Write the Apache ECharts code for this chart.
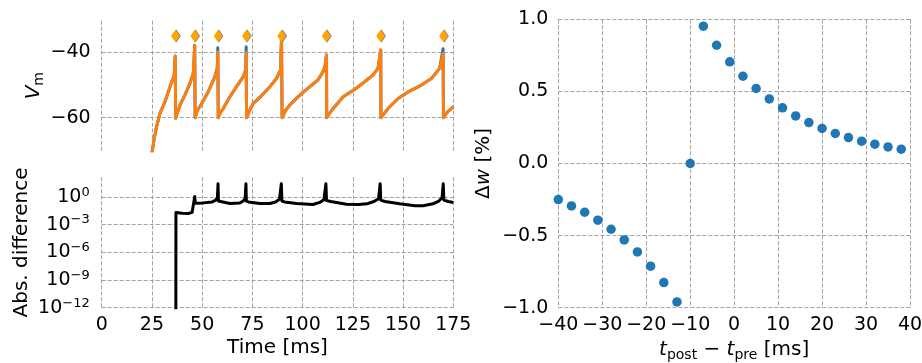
<!DOCTYPE html>
<html>
<head>
<meta charset="utf-8">
<script src="https://cdn.jsdelivr.net/npm/echarts@6/dist/echarts.min.js"></script>
<style>
  html, body { margin: 0; padding: 0; background: #fff; }
  #chart { width: 922px; height: 363px; }
</style>
</head>
<body>
<div id="chart"></div>
<script>
// membrane potential, both simulations share the time base [ms]
var timeMs = [
  24.6, 25.2, 26.2, 27.3, 29.0, 31.5, 34.0, 36.1, 36.6, 36.8,
  37.5, 38.1, 39.0, 41.4, 43.9, 45.6, 46.3, 46.5,
  47.5, 49.7, 53.0, 56.3, 57.5, 57.8, 58.0,
  59.0, 60.5, 63.8, 67.1, 70.4, 71.6, 71.9, 72.1,
  73.7, 75.4, 78.7, 83.7, 87.0, 89.0, 89.5, 89.8,
  91.5, 93.6, 98.6, 103.6, 107.7, 110.2, 111.2, 111.9, 112.0,
  113.5, 115.2, 120.2, 126.0, 130.9, 135.1, 137.5, 138.9, 139.0,
  140.5, 142.5, 147.5, 152.5, 159.1, 164.1, 168.2, 169.9, 170.1,
  172.0, 174.0, 175.0
];
var vmReference = [
  -72.0, -70.0, -66.2, -62.8, -58.7, -55.1, -50.5, -46.9, -41.1, -60.2,
  -58.7, -57.7, -56.1, -53.1, -49.5, -46.4, -37.8, -60.0,
  -57.9, -55.7, -52.1, -47.5, -44.9, -38.6, -60.0,
  -58.5, -57.2, -53.6, -50.5, -47.5, -45.5, -38.3, -60.0,
  -57.7, -55.6, -53.8, -50.5, -48.0, -45.4, -35.5, -60.0,
  -57.8, -56.1, -53.1, -50.5, -48.4, -45.9, -44.0, -40.8, -60.0,
  -58.6, -57.2, -53.6, -51.3, -49.0, -46.9, -44.9, -39.3, -60.0,
  -58.8, -57.2, -54.1, -52.1, -50.0, -48.0, -44.9, -38.9, -60.0,
  -58.3, -57.2, -56.6
];
var vmModel = [
  -72.0, -70.0, -66.2, -62.8, -58.7, -55.1, -50.5, -46.9, -41.1, -60.2,
  -58.7, -57.7, -56.1, -53.1, -49.5, -46.4, -37.8, -60.0,
  -57.9, -55.7, -52.1, -47.5, -44.9, -39.8, -60.0,
  -58.5, -57.2, -53.6, -50.5, -47.5, -45.5, -40.0, -60.0,
  -57.7, -55.6, -53.8, -50.5, -48.0, -45.4, -35.5, -60.0,
  -57.8, -56.1, -53.1, -50.5, -48.4, -45.9, -44.0, -40.8, -60.0,
  -58.6, -57.2, -53.6, -51.3, -49.0, -46.9, -44.9, -39.3, -60.0,
  -58.8, -57.2, -54.1, -52.1, -50.0, -48.0, -44.9, -40.3, -60.0,
  -58.3, -57.2, -56.6
];
var spikeTimesReference = [37.1, 46.7, 58.3, 72.4, 90.0, 112.2, 139.2, 170.5];
var spikeTimesModel = [36.8, 46.4, 58.0, 72.1, 89.6, 111.8, 138.9, 170.2];
var spikeMarkerVm = -35;
var vmTicks = [-60, -40];

// absolute difference between the two traces
var diffTimeMs = [
  36.9, 36.95, 40.0, 43.1, 45.0, 45.8, 46.3, 46.6, 50.5, 55.0,
  56.8, 57.6, 57.9, 58.1, 59.0, 63.8, 68.8, 70.5, 71.4, 71.8,
  72.0, 73.0, 78.7, 83.7, 86.5, 88.5, 89.4, 89.7, 91.0, 97.0,
  105.2, 108.5, 110.6, 111.6, 111.9, 114.0, 121.8, 128.0, 132.0, 135.5,
  137.8, 138.6, 138.9, 141.0, 148.3, 156.0, 160.0, 164.9, 167.8, 169.4,
  170.0, 170.3, 172.5, 175.0
];
var absDiff = [
  1e-14, 0.0204, 0.0166, 0.0158, 0.0209, 0.0282, 1.12, 0.2, 0.224, 0.282,
  0.447, 0.891, 26.3, 0.355, 0.282, 0.19, 0.224, 0.355, 0.708, 26.3,
  0.355, 0.282, 0.19, 0.19, 0.282, 0.562, 26.3, 0.355, 0.282, 0.19,
  0.148, 0.251, 0.501, 26.3, 0.398, 0.316, 0.158, 0.148, 0.178, 0.316,
  0.631, 26.3, 0.447, 0.316, 0.178, 0.112, 0.112, 0.178, 0.355, 0.794,
  26.3, 0.447, 0.316, 0.251
];
var diffTickExponents = [-12, -9, -6, -3, 0];

// STDP window
var stdpDt = [-40, -37, -34, -31, -28, -25, -22, -19, -16, -13, -10,
  -7, -4, -1, 2, 5, 8, 11, 14, 17, 20, 23, 26, 29, 32, 35, 38];
var stdpDw = [-0.25, -0.294, -0.338, -0.393, -0.456, -0.53, -0.613, -0.712, -0.826, -0.96, 0.0,
  0.952, 0.82, 0.705, 0.605, 0.52, 0.448, 0.386, 0.33, 0.284, 0.243, 0.208, 0.18, 0.155, 0.134, 0.115, 0.099];

var FONT = 'DejaVu Sans';
var TICK_SIZE = 19;
var NAME_SIZE = 20;
var gridLine = { show: true, showMinLine: true, showMaxLine: true, lineStyle: { color: '#999', type: [4, 2], width: 0.9 } };

function minus(s) { return String(s).replace('-', '\u2212'); }
function zip(a, b, f) {
  return a.map(function (v, i) { return [v, f ? f(b[i]) : b[i]]; });
}

var tickLabel = { fontFamily: FONT, fontSize: TICK_SIZE, color: '#000' };
var nameStyle = {
  fontFamily: FONT, fontSize: NAME_SIZE, color: '#000',
  rich: {
    n: { fontFamily: FONT, fontSize: NAME_SIZE, color: '#000', lineHeight: 26 },
    i: { fontFamily: FONT, fontSize: NAME_SIZE, color: '#000', fontStyle: 'italic', lineHeight: 26 },
    sub: { fontFamily: FONT, fontSize: 14, color: '#000', lineHeight: 16, verticalAlign: 'bottom' }
  }
};

function baseAxis(extra) {
  var ax = {
    type: 'value',
    axisLine: { show: false },
    axisTick: { show: false },
    splitLine: JSON.parse(JSON.stringify(gridLine)),
    axisLabel: Object.assign({}, tickLabel),
    nameTextStyle: nameStyle,
    nameLocation: 'middle'
  };
  return Object.assign(ax, extra);
}

var chart = echarts.init(document.getElementById('chart'), null, { renderer: 'canvas' });

var yVm = baseAxis({
  gridIndex: 0, min: -70.1, max: -30.3, splitNumber: 2, minInterval: 20, maxInterval: 20,
  name: '{i|V}{sub|m}', nameGap: 52
});
yVm.axisLabel.margin = 11;
yVm.axisLabel.showMinLabel = false;
yVm.axisLabel.showMaxLabel = false;
yVm.axisLabel.formatter = function (v) { return vmTicks.indexOf(v) >= 0 ? minus(v) : ''; };
yVm.splitLine.showMinLine = false;
yVm.splitLine.showMaxLine = false;

var yDiff = baseAxis({
  gridIndex: 1, min: -12, max: 2.12, interval: 3,
  name: 'Abs. difference', nameGap: 70
});
yDiff.axisLabel.margin = 12;
yDiff.axisLabel.showMaxLabel = false;
yDiff.axisLabel.formatter = function (v) {
  if (diffTickExponents.indexOf(v) < 0) return '';
  return '{b|10}{s|' + minus(v) + '}';
};
yDiff.axisLabel.rich = {
  b: { fontFamily: FONT, fontSize: TICK_SIZE, color: '#000', lineHeight: 22 },
  s: { fontFamily: FONT, fontSize: 13, color: '#000', lineHeight: 13, verticalAlign: 'top' }
};
yDiff.splitLine.showMaxLine = false;

var yDw = baseAxis({
  gridIndex: 2, min: -1, max: 1, interval: 0.5,
  name: '{n|\u0394}{i|w}{n| [%]}', nameGap: 62
});
yDw.axisLabel.margin = 10;
yDw.axisLabel.formatter = function (v) { return minus(v.toFixed(1)); };

var xVm = baseAxis({ gridIndex: 0, min: 0, max: 175, interval: 25 });
xVm.axisLabel.show = false;
var xDiff = baseAxis({ gridIndex: 1, min: 0, max: 175, interval: 25, name: 'Time [ms]', nameGap: 30 });
xDiff.axisLabel.margin = 8;
var xDt = baseAxis({
  gridIndex: 2, min: -40, max: 40, interval: 10,
  name: '{i|t}{sub|post}{n| \u2212 }{i|t}{sub|pre}{n| [ms]}', nameGap: 28
});
xDt.axisLabel.margin = 8;
xDt.axisLabel.formatter = function (v) { return minus(v); };

chart.setOption({
  animation: false,
  backgroundColor: '#fff',
  textStyle: { fontFamily: FONT },
  grid: [
    { left: 101.7, top: 20.7, width: 351.6, height: 130, containLabel: false, outerBoundsMode: 'none' },
    { left: 101.7, top: 177.3, width: 351.6, height: 130.4, containLabel: false, outerBoundsMode: 'none' },
    { left: 558.3, top: 19.3, width: 351.7, height: 288.4, containLabel: false, outerBoundsMode: 'none' }
  ],
  xAxis: [xVm, xDiff, xDt],
  yAxis: [yVm, yDiff, yDw],
  series: [
    {
      type: 'line', xAxisIndex: 0, yAxisIndex: 0, data: zip(timeMs, vmReference),
      showSymbol: false, lineStyle: { color: '#1f77b4', width: 3, opacity: 1, join: 'round' }, z: 2
    },
    {
      type: 'line', xAxisIndex: 0, yAxisIndex: 0, data: zip(timeMs, vmModel),
      showSymbol: false, lineStyle: { color: '#ff7f0e', width: 3, opacity: 1, join: 'round' }, z: 3
    },
    {
      type: 'scatter', xAxisIndex: 0, yAxisIndex: 0,
      data: spikeTimesReference.map(function (t) { return [t, spikeMarkerVm]; }),
      symbol: 'diamond', symbolSize: [9, 13], itemStyle: { color: '#6a5acd', opacity: 1 }, z: 4
    },
    {
      type: 'scatter', xAxisIndex: 0, yAxisIndex: 0,
      data: spikeTimesModel.map(function (t) { return [t, spikeMarkerVm]; }),
      symbol: 'diamond', symbolSize: [9, 13], itemStyle: { color: '#ffa500', opacity: 1 }, z: 5
    },
    {
      type: 'line', xAxisIndex: 1, yAxisIndex: 1, data: zip(diffTimeMs, absDiff, Math.log10),
      showSymbol: false, lineStyle: { color: '#000', width: 3, opacity: 1, join: 'round' }, z: 3
    },
    {
      type: 'scatter', xAxisIndex: 2, yAxisIndex: 2, data: zip(stdpDt, stdpDw),
      symbolSize: 9.5, itemStyle: { color: '#1f77b4', opacity: 1 }, z: 3
    }
  ]
});
</script>
</body>
</html>
